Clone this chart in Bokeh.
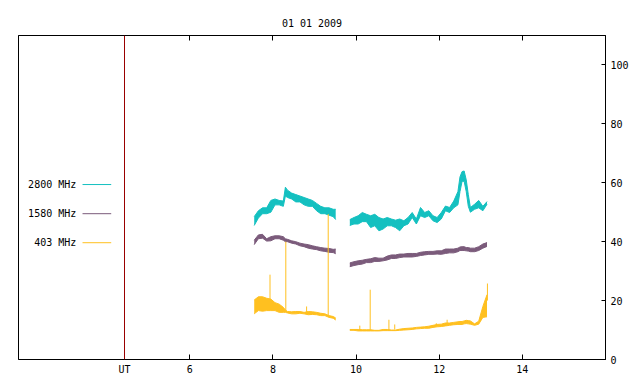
from bokeh.plotting import figure
from bokeh.models import Span, Label, LinearAxis, FixedTicker, Range1d
from bokeh.embed import file_html
from bokeh.resources import INLINE

# ---------------- data ----------------
title_text = "01 01 2009"
series_names = ["2800 MHz", "1580 MHz", "403 MHz"]
x_ticks = [6, 8, 10, 12, 14]
ut_position = 4.43
y_ticks = [0, 20, 40, 60, 80, 100]

# first observing block (UT hours)
t1 = [7.55, 7.65, 7.75, 7.85, 7.95, 8.05, 8.15, 8.25, 8.30, 8.35, 8.45, 8.55,
      8.65, 8.75, 8.85, 8.95, 9.05, 9.15, 9.25, 9.35, 9.45, 9.51]
c2800_lo_1 = [45.5, 48.0, 49.5, 49.5, 50.0, 52.5, 52.5, 52.0, 55.5, 55.0, 54.5, 53.5,
              53.5, 52.5, 52.0, 52.0, 50.5, 49.5, 49.5, 49.0, 48.5, 47.5]
c2800_hi_1 = [48.5, 50.5, 51.5, 51.5, 54.0, 54.5, 54.0, 53.8, 58.5, 57.5, 56.5, 56.0,
              55.5, 55.0, 54.5, 54.0, 53.0, 52.0, 51.5, 51.5, 51.0, 51.0]
c1580_lo_1 = [39.0, 41.0, 41.2, 40.2, 40.3, 41.0, 41.0, 40.5, 40.0, 40.0, 39.5, 39.2,
              38.6, 38.3, 37.8, 37.5, 37.3, 36.9, 36.7, 36.4, 36.3, 35.9]
c1580_hi_1 = [40.5, 42.3, 42.5, 41.0, 41.7, 42.0, 42.0, 41.7, 41.0, 40.8, 40.3, 40.0,
              39.5, 39.2, 39.0, 38.6, 38.3, 38.0, 37.8, 37.7, 37.4, 37.5]
c403_lo_1 = [15.5, 16.6, 16.4, 16.6, 16.6, 16.6, 16.0, 16.0, 16.0, 15.8, 15.5, 15.5,
             15.7, 15.5, 15.2, 15.3, 15.2, 14.9, 14.9, 14.3, 14.0, 13.4]
c403_hi_1 = [20.2, 21.3, 21.3, 20.8, 20.5, 19.3, 18.8, 17.7, 16.8, 16.3, 16.2, 16.3,
             16.3, 16.0, 16.3, 16.2, 16.0, 15.7, 15.5, 14.9, 14.6, 14.1]

# second observing block
t2 = [9.85, 9.95, 10.05, 10.15, 10.25, 10.35, 10.45, 10.55, 10.65, 10.75, 10.85,
      10.95, 11.05, 11.15, 11.25, 11.35, 11.45, 11.55, 11.65, 11.75, 11.85, 11.95,
      12.05, 12.15, 12.25, 12.35, 12.45, 12.50, 12.55, 12.60, 12.65, 12.70, 12.75,
      12.85, 12.95, 13.05, 13.15]
c2800_lo_2 = [45.5, 46.0, 46.0, 46.8, 46.8, 44.8, 45.4, 43.7, 44.3, 45.4, 45.4,
              44.8, 43.7, 45.4, 46.0, 48.2, 46.0, 48.8, 48.2, 48.8, 47.1, 46.5,
              47.7, 50.5, 49.9, 51.5, 52.5, 57.0, 60.5, 60.5, 57.0, 52.0, 50.0,
              51.0, 51.5, 50.5, 52.7]
c2800_hi_2 = [47.5, 48.2, 48.8, 49.9, 49.3, 48.8, 49.3, 48.2, 47.7, 48.2, 47.7,
              47.3, 47.7, 47.1, 48.2, 49.9, 47.7, 51.6, 49.9, 50.5, 48.8, 48.2,
              49.9, 52.1, 51.6, 53.8, 57.0, 62.0, 63.8, 64.0, 61.0, 56.0, 51.6,
              52.7, 54.0, 52.0, 53.6]
c1580_lo_2 = [31.5, 31.9, 32.2, 32.4, 32.9, 32.9, 33.3, 33.3, 33.5, 33.8, 34.3,
              34.3, 34.6, 34.8, 34.8, 34.8, 35.0, 35.3, 35.5, 35.7, 35.7, 35.8,
              35.7, 36.0, 36.2, 36.2, 36.6, 37.0, 37.0, 37.0, 36.9, 36.8, 36.6,
              36.6, 37.0, 37.8, 38.4]
c1580_hi_2 = [32.8, 33.2, 33.5, 33.7, 34.0, 34.2, 34.6, 34.4, 34.4, 35.1, 35.5,
              35.5, 35.8, 35.8, 36.0, 36.0, 36.0, 36.4, 36.6, 36.7, 36.7, 36.9,
              36.9, 37.5, 37.5, 37.5, 37.8, 38.2, 38.3, 38.3, 38.0, 38.0, 37.8,
              37.8, 38.3, 39.2, 39.7]
c403_lo_2 = [9.9, 9.9, 9.7, 9.7, 9.7, 9.7, 9.7, 9.7, 9.8, 9.8, 9.8,
             9.8, 9.9, 10.0, 10.1, 10.2, 10.4, 10.5, 10.6, 10.6, 10.9, 11.1,
             11.2, 11.4, 11.6, 11.8, 11.9, 11.9, 11.9, 12.1, 12.2, 12.1, 12.0,
             11.6, 12.0, 14.3, 14.5]
c403_hi_2 = [10.2, 10.2, 10.2, 10.1, 10.1, 10.1, 9.9, 9.9, 10.2, 10.2, 10.0,
             10.0, 10.3, 10.5, 10.6, 10.7, 10.9, 11.0, 11.1, 11.3, 11.6, 11.9,
             12.0, 12.4, 12.4, 12.6, 12.8, 12.9, 12.9, 13.1, 13.3, 13.2, 13.1,
             12.1, 13.0, 18.0, 22.0]

# isolated spikes of the 403 MHz record
spike_t = [7.93, 8.31, 8.81, 9.33, 10.09, 10.34, 10.79, 10.93, 11.93, 12.19, 13.16]
spike_base = [17.0, 16.5, 16.0, 15.0, 10.0, 10.0, 10.0, 10.2, 11.5, 12.0, 20.0]
spike_top = [28.8, 40.0, 18.0, 49.4, 11.5, 23.7, 13.5, 11.9, 12.3, 13.5, 25.8]

# legend layout (data units, as placed in the reference)
legend_text_x = 3.27
legend_line_x0 = 3.42
legend_line_x1 = 4.11
legend_y = [59.4, 49.5, 39.65]

colors = ["#14c0c0", "#7b5b7b", "#ffc020"]
red = "#990000"
FONT = "DejaVu Sans Mono"
FS = "10px"

# ---------------- figure ----------------
p = figure(width=640, height=384, output_backend="svg", toolbar_location=None,
           x_range=Range1d(1.88, 16.0), y_range=Range1d(0, 110),
           y_axis_location="right", min_border_left=18, min_border_right=35,
           min_border_top=35, min_border_bottom=25)
p.background_fill_color = "white"
p.border_fill_color = "white"
p.outline_line_color = "black"
p.outline_line_alpha = 1.0
p.outline_line_width = 1
p.xgrid.visible = False
p.ygrid.visible = False

p.title.text = title_text
p.title.align = "center"
p.title.text_font = FONT
p.title.text_font_size = FS
p.title.text_font_style = "normal"
p.title.text_color = "black"
p.title.standoff = 13

xa = p.xaxis[0]
xa.ticker = FixedTicker(ticks=[ut_position] + x_ticks)
xa.major_label_overrides = {ut_position: "UT"}
xa.major_tick_in = 5
xa.major_tick_out = 0
xa.minor_tick_line_color = None
xa.major_label_standoff = 4
xa.major_label_text_font = FONT
xa.major_label_text_font_size = FS
xa.major_label_text_color = "black"
xa.axis_line_color = "black"

top = LinearAxis(ticker=FixedTicker(ticks=x_ticks), major_tick_in=5, major_tick_out=0,
                 minor_tick_line_color=None, major_label_text_font_size="1px",
                 major_label_text_color=None, major_label_standoff=0,
                 axis_line_color="black")
p.add_layout(top, "above")

ya = p.yaxis[0]
ya.ticker = FixedTicker(ticks=y_ticks)
ya.major_tick_in = 4
ya.major_tick_out = 0
ya.minor_tick_line_color = None
ya.major_label_standoff = 5
ya.major_label_text_font = FONT
ya.major_label_text_font_size = FS
ya.major_label_text_color = "black"
ya.axis_line_color = "black"

p.add_layout(Span(location=ut_position, dimension="height", line_color=red, line_width=1))

blocks = [
    (t1, [(c2800_lo_1, c2800_hi_1), (c1580_lo_1, c1580_hi_1), (c403_lo_1, c403_hi_1)]),
    (t2, [(c2800_lo_2, c2800_hi_2), (c1580_lo_2, c1580_hi_2), (c403_lo_2, c403_hi_2)]),
]
for i, col in enumerate(colors):
    for t, ser in blocks:
        lo, hi = ser[i]
        p.varea(x=t, y1=lo, y2=hi, fill_color=col, fill_alpha=1.0)
        p.line(t, lo, line_color=col, line_width=1)
        p.line(t, hi, line_color=col, line_width=1)
    if i == 2:
        p.segment(x0=spike_t, y0=spike_base, x1=spike_t, y1=spike_top,
                  line_color=col, line_width=1)

# legend (gnuplot style: label left of sample line)
for name, col, ly in zip(series_names, colors, legend_y):
    p.add_layout(Label(x=legend_text_x, y=ly, text=name, text_align="right",
                       text_baseline="middle", text_font=FONT,
                       text_font_size=FS, text_color="black"))
    p.segment(x0=[legend_line_x0], y0=[ly], x1=[legend_line_x1], y1=[ly],
              line_color=col, line_width=1)

open("out.html", "w").write(file_html(p, INLINE))
